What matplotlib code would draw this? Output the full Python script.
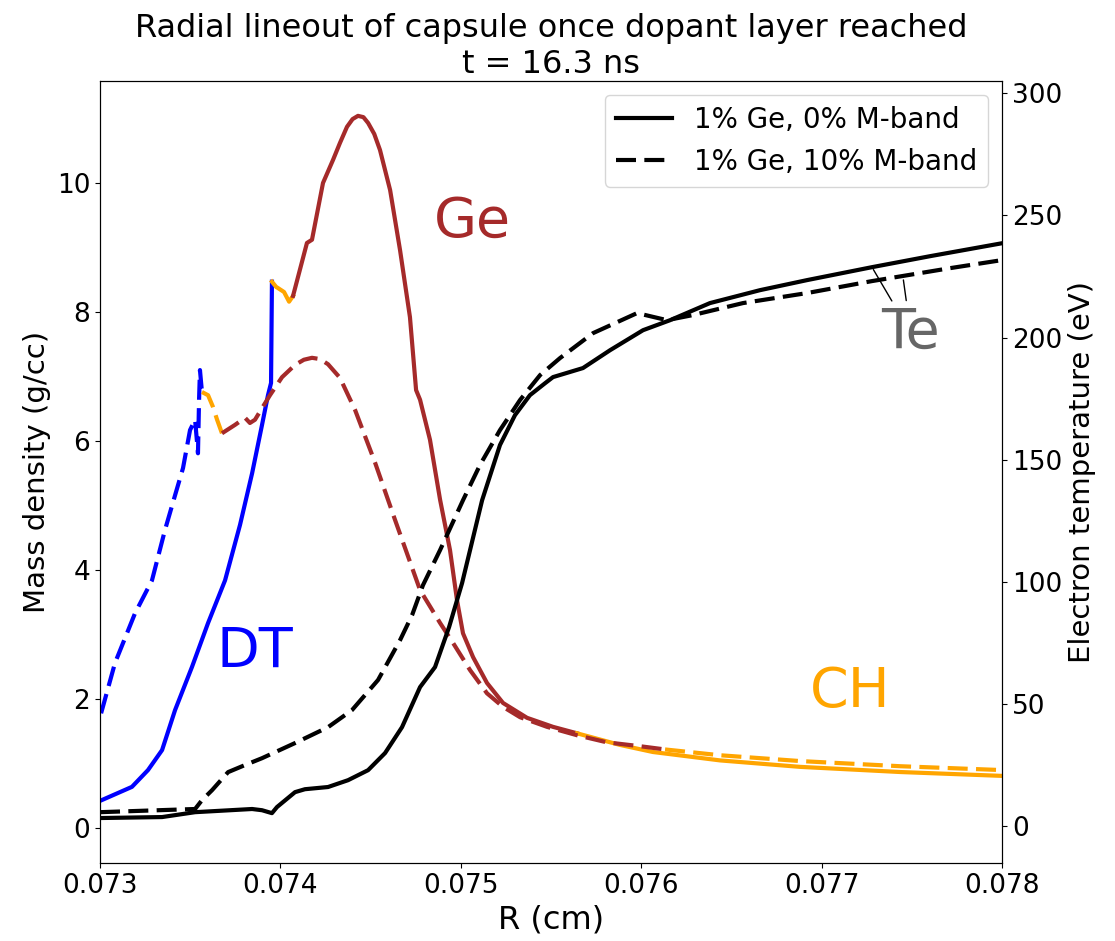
import numpy as np
import matplotlib.pyplot as plt

# --- mass density, run with 0% M-band (solid) ---
r_dt_a = [0.073006, 0.073177, 0.073266, 0.073344, 0.073416, 0.073510, 0.073599,
          0.073693, 0.073776, 0.073843, 0.073898, 0.073931, 0.073948, 0.073953]
rho_dt_a = [0.43, 0.64, 0.90, 1.21, 1.83, 2.50, 3.18,
            3.84, 4.70, 5.50, 6.25, 6.71, 6.90, 8.47]

r_ch1_a = [0.073953, 0.073976, 0.074020, 0.074048, 0.074070]
rho_ch1_a = [8.47, 8.39, 8.31, 8.16, 8.25]

r_ge_a = [0.074070, 0.074147, 0.074175, 0.074236, 0.074292, 0.074330, 0.074369,
          0.074400, 0.074430, 0.074460, 0.074486, 0.074520, 0.074552, 0.074608,
          0.074663, 0.074718, 0.074752, 0.074774, 0.074829, 0.074885, 0.074940,
          0.074979, 0.075012, 0.075068, 0.075145, 0.075234, 0.075367, 0.075511,
          0.075644]
rho_ge_a = [8.25, 9.07, 9.12, 10.00, 10.36, 10.62, 10.87,
            10.99, 11.04, 11.02, 10.93, 10.76, 10.51, 9.89,
            8.96, 7.92, 6.79, 6.64, 6.02, 5.09, 4.31,
            3.53, 3.02, 2.65, 2.25, 1.94, 1.71, 1.57,
            1.47]

r_ch2_a = [0.075644, 0.075882, 0.076065, 0.076437, 0.076880, 0.077435, 0.078]
rho_ch2_a = [1.47, 1.29, 1.18, 1.05, 0.95, 0.87, 0.81]

# --- mass density, run with 10% M-band (dashed) ---
r_dt_b = [0.073006, 0.073083, 0.073194, 0.073288, 0.073360, 0.073416, 0.073460,
          0.073499, 0.073527, 0.073543, 0.073549, 0.073554, 0.073565]
rho_dt_b = [1.78, 2.56, 3.33, 3.84, 4.62, 5.16, 5.58,
            6.17, 6.33, 5.81, 6.64, 7.10, 6.76]

r_ch1_b = [0.073565, 0.073599, 0.073626, 0.073649, 0.073676]
rho_ch1_b = [6.76, 6.71, 6.53, 6.33, 6.12]

r_ge_b = [0.073676, 0.073748, 0.073804, 0.073831, 0.073859, 0.073898, 0.073942,
          0.074009, 0.074081, 0.074130, 0.074175, 0.074220, 0.074264, 0.074330,
          0.074414, 0.074524, 0.074635, 0.074774, 0.074885, 0.074957, 0.075051,
          0.075145, 0.075234, 0.075328, 0.075478, 0.075644, 0.075810, 0.075993,
          0.076132]
rho_ge_b = [6.12, 6.25, 6.36, 6.28, 6.33, 6.51, 6.71,
            6.99, 7.18, 7.26, 7.29, 7.27, 7.19, 6.98,
            6.48, 5.67, 4.78, 3.69, 3.18, 2.87, 2.45,
            2.09, 1.88, 1.72, 1.57, 1.44, 1.33, 1.27,
            1.22]

r_ch2_b = [0.076132, 0.076437, 0.076880, 0.077435, 0.078]
rho_ch2_b = [1.22, 1.13, 1.04, 0.96, 0.90]

# --- electron temperature ---
r_te_a = [0.07300, 0.073344, 0.073527, 0.073843, 0.073898, 0.073953, 0.073981,
          0.074081, 0.074136, 0.074264, 0.074375, 0.074486, 0.074580, 0.074674,
          0.074774, 0.074857, 0.074935, 0.075007, 0.075118, 0.075217, 0.075300,
          0.075383, 0.075467, 0.075511, 0.075677, 0.075827, 0.076010, 0.076160,
          0.076381, 0.076659, 0.076919, 0.077279, 0.077601, 0.078]
te_a = [3.3, 3.7, 5.7, 7.0, 6.5, 5.3, 7.8,
        13.9, 15.1, 16.0, 18.8, 22.9, 29.9, 40.5,
        56.9, 65.1, 81.5, 99.5, 133.4, 156.0, 168.2,
        176.4, 181.3, 183.8, 187.5, 194.8, 203.0, 207.1,
        214.1, 219.4, 223.5, 228.8, 233.3, 238.6]

r_te_b = [0.07300, 0.073527, 0.073565, 0.073621, 0.073710, 0.073804, 0.073898,
          0.074081, 0.074264, 0.074397, 0.074541, 0.074663, 0.074730, 0.074790,
          0.074885, 0.075012, 0.075106, 0.075217, 0.075328, 0.075439, 0.075550,
          0.075733, 0.075977, 0.076143, 0.076287, 0.076564, 0.076919, 0.077279,
          0.077712, 0.078]
te_b = [5.7, 7.0, 10.6, 14.7, 22.1, 25.0, 27.8,
        34.0, 40.5, 47.5, 59.8, 76.1, 86.4, 98.6,
        113.0, 133.4, 147.8, 162.1, 174.4, 184.6, 191.6,
        201.8, 210.0, 207.1, 209.2, 214.1, 218.2, 223.1,
        228.4, 231.7]

lw = 3
dash = (4.8, 2.0)
fig, ax = plt.subplots(figsize=(11.15, 9.41), dpi=100)
fig.subplots_adjust(left=0.0897, right=0.8987, bottom=0.0829, top=0.9139)

runs = [('-', [(r_dt_a, rho_dt_a, 'blue'), (r_ch1_a, rho_ch1_a, 'orange'),
               (r_ge_a, rho_ge_a, 'brown'), (r_ch2_a, rho_ch2_a, 'orange')]),
        ('--', [(r_dt_b, rho_dt_b, 'blue'), (r_ch1_b, rho_ch1_b, 'orange'),
                (r_ge_b, rho_ge_b, 'brown'), (r_ch2_b, rho_ch2_b, 'orange')])]
for ls, segs in runs:
    for r, rho, c in segs:
        line, = ax.plot(r, rho, ls, color=c, lw=lw)
        if ls == '--':
            line.set_dashes(dash)

ax.text(0.07386, 2.73, 'DT', color='blue', fontsize=40, ha='center', va='center')
ax.text(0.075063, 9.40, 'Ge', color='brown', fontsize=40, ha='center', va='center')
ax.text(0.077157, 2.11, 'CH', color='orange', fontsize=40, ha='center', va='center')

ax.set_xlim(0.073, 0.078)
ax.set_ylim(-0.54, 11.58)
ax.set_xticks([0.073, 0.074, 0.075, 0.076, 0.077, 0.078])
ax.set_xlabel('R (cm)', fontsize=23)
ax.set_ylabel('Mass density (g/cc)', fontsize=21)
ax.tick_params(labelsize=19)
ax.set_title('Radial lineout of capsule once dopant layer reached\nt = 16.3 ns', fontsize=23)

ax2 = ax.twinx()
ax2.plot(r_te_a, te_a, '-', color='k', lw=lw, label='1% Ge, 0% M-band')
ax2.plot(r_te_b, te_b, '--', color='k', lw=lw, dashes=dash, label='1% Ge, 10% M-band')
ax2.set_ylim(-15.1, 305)
ax2.set_ylabel('Electron temperature (eV)', fontsize=21)
ax2.tick_params(labelsize=19)

te_pos = (0.077494, 201.8)
ax2.annotate('Te', xy=(0.077279, 228.8), xytext=te_pos, color='#666666', fontsize=40,
             ha='center', va='center', arrowprops=dict(arrowstyle='-', color='k'))
ax2.annotate('Te', xy=(0.077451, 224.7), xytext=te_pos, color='none', fontsize=40,
             ha='center', va='center', arrowprops=dict(arrowstyle='-', color='k'))

ax2.legend(loc='upper right', fontsize=20)

fig.savefig('out.png', dpi=100)
